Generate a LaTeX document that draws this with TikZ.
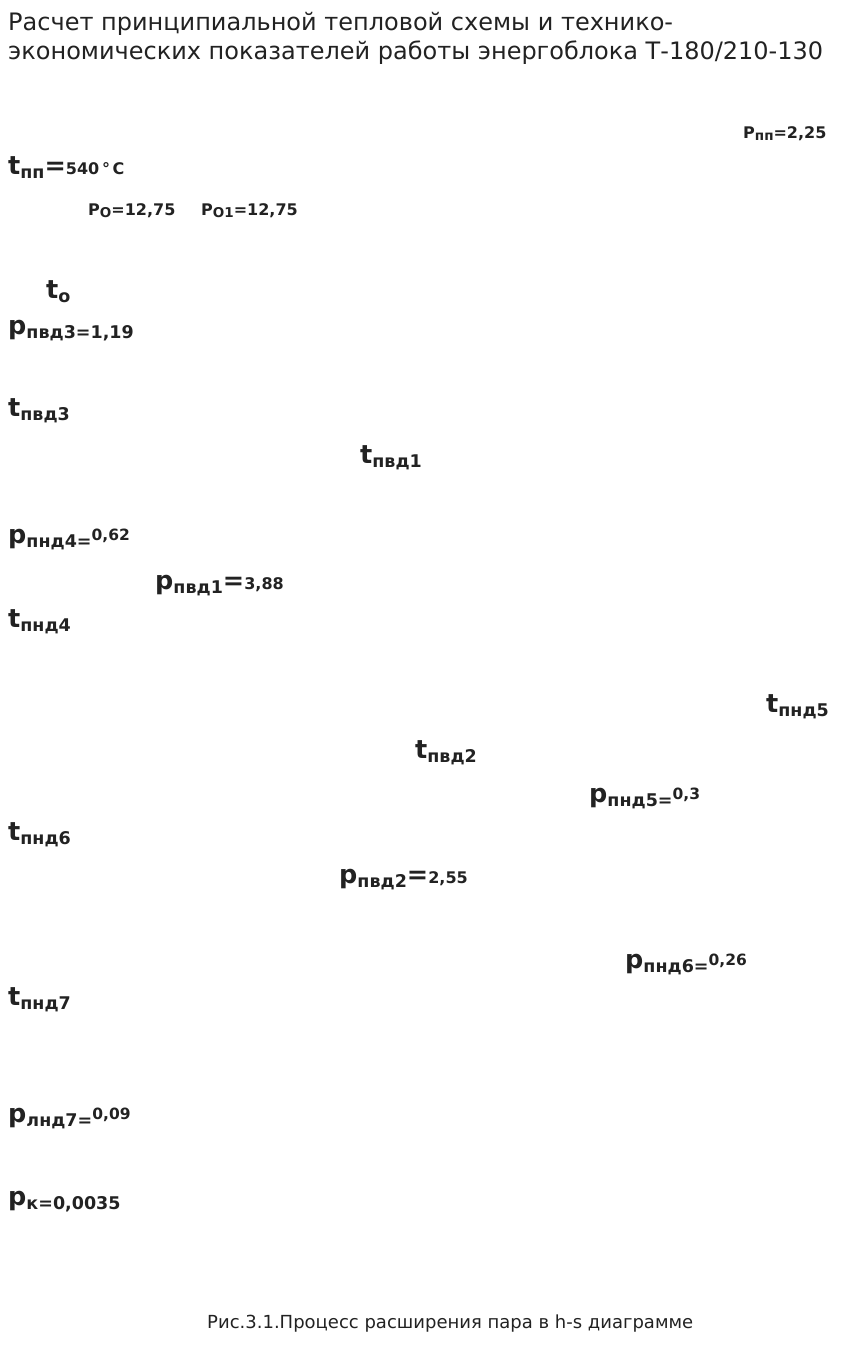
\documentclass[tikz,border=0pt]{standalone}
\usepackage{fontspec}
\setmainfont{DejaVu Sans}
\definecolor{ink}{HTML}{222222}
\newcommand{\Mg}[1]{{\fontsize{25.5}{30}\selectfont\bfseries #1}}
\newcommand{\Ms}[1]{{\fontsize{17.5}{21}\selectfont\bfseries #1}}
\newcommand{\Mt}[1]{{\fontsize{15.5}{18}\selectfont\bfseries #1}}
\newcommand{\Pc}[1]{{\fontsize{16}{19}\selectfont\bfseries #1}}
\newcommand{\Pt}[1]{{\fontsize{13.5}{16}\selectfont\bfseries #1}}
\newcommand{\Sub}[1]{\raisebox{-4.5pt}{\Ms{#1}}}
\newcommand{\Sup}[1]{\raisebox{3pt}{\Mt{#1}}}
\begin{document}
\begin{tikzpicture}[x=1pt,y=-1pt,
  lbl/.style={anchor=base west,inner sep=0pt,text=ink},
  ttl/.style={anchor=base west,inner sep=0pt,text=ink,font=\fontsize{24}{28}\selectfont}]
\useasboundingbox (0,0) rectangle (847,1355);
\node[ttl] (title1) at (8,30) {Расчет принципиальной тепловой схемы и технико-};
\node[ttl] (title2) at (8,59) {экономических показателей работы энергоблока Т-180/210-130};
\node[lbl] (ppp) at (743,138) {\Pc{P}\raisebox{-2.5pt}{\Pt{пп}}\Pc{=2,25}};
\node[lbl] (tpp) at (8,174) {\Mg{t}\Sub{пп}\Mg{=}\Pc{540\,°\,C}};
\node[lbl] (po) at (88,215) {\Pc{P}\raisebox{-2.5pt}{\Pt{O}}\Pc{=12,75}};
\node[lbl] (po1) at (201,215) {\Pc{P}\raisebox{-2.5pt}{\Pt{O1}}\Pc{=12,75}};
\node[lbl] (to) at (46,298) {\Mg{t}\Sub{o}};
\node[lbl] (pvd3) at (8,334) {\Mg{p}\Sub{пвд3=1,19}};
\node[lbl] (tvd3) at (8,416) {\Mg{t}\Sub{пвд3}};
\node[lbl] (tvd1) at (360,463) {\Mg{t}\Sub{пвд1}};
\node[lbl] (pnd4) at (8,543) {\Mg{p}\Sub{пнд4=}\Sup{0,62}};
\node[lbl] (pvd1) at (155,589) {\Mg{p}\Sub{пвд1}\Mg{=}\Pc{3,88}};
\node[lbl] (tnd4) at (8,627) {\Mg{t}\Sub{пнд4}};
\node[lbl] (tnd5) at (766,712) {\Mg{t}\Sub{пнд5}};
\node[lbl] (tvd2) at (415,758) {\Mg{t}\Sub{пвд2}};
\node[lbl] (pnd5) at (589,802) {\Mg{p}\Sub{пнд5=}\Sup{0,3}};
\node[lbl] (tnd6) at (8,840) {\Mg{t}\Sub{пнд6}};
\node[lbl] (pvd2) at (339,883) {\Mg{p}\Sub{пвд2}\Mg{=}\Pc{2,55}};
\node[lbl] (pnd6) at (625,968) {\Mg{p}\Sub{пнд6=}\Sup{0,26}};
\node[lbl] (tnd7) at (8,1005) {\Mg{t}\Sub{пнд7}};
\node[lbl] (pnd7) at (8,1122) {\Mg{p}\Sub{лнд7=}\Sup{0,09}};
\node[lbl] (pk) at (8,1205) {\Mg{p}\Sub{к=0,0035}};
\node[anchor=base west,inner sep=0pt,text=ink,font=\fontsize{18}{22}\selectfont] (cap) at (207,1328) {Рис.3.1.Процесс расширения пара в h-s диаграмме};
\end{tikzpicture}
\end{document}
